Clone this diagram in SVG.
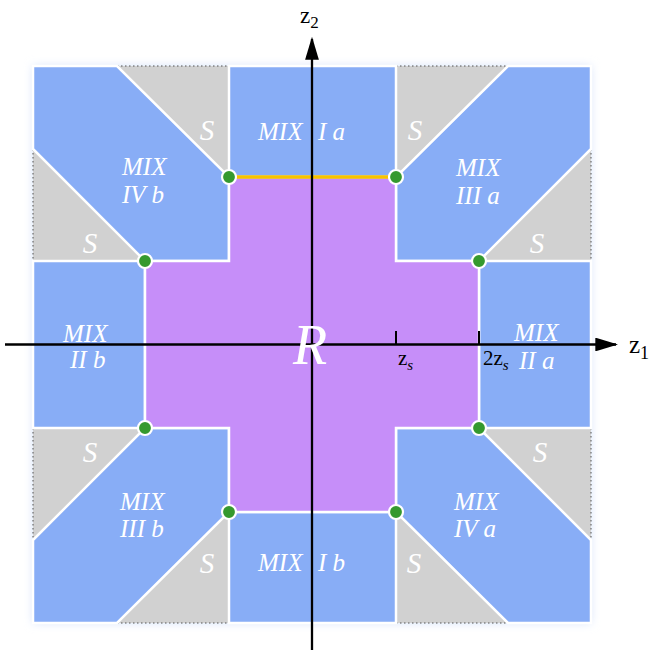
<svg xmlns="http://www.w3.org/2000/svg" width="650" height="654" viewBox="0 0 650 654">
<defs>
<filter id="glow" x="-10%" y="-10%" width="120%" height="120%"><feGaussianBlur stdDeviation="5"/></filter>
<marker id="arr" markerWidth="10" markerHeight="6" refX="9" refY="3" orient="auto" markerUnits="strokeWidth"><path d="M0,0 L10,3 L0,6 Z" fill="#000"/></marker>
</defs>
<style>
.blue{fill:#88adf6;stroke:#fff;stroke-width:2.5;stroke-linejoin:miter}
.purple{fill:#c68ef9;stroke:#fff;stroke-width:2.5}
.gray{fill:#d1d1d1;stroke:none}
.dot{stroke:#555;stroke-width:1;stroke-dasharray:1.5 2.5;fill:none}
.lbl{font-family:"Liberation Serif","DejaVu Serif",serif;font-style:italic;fill:#fff;font-size:25px}
.s{font-family:"Liberation Serif","DejaVu Serif",serif;font-style:italic;fill:#fff;font-size:29px;text-anchor:middle}
.ax{font-family:"Liberation Serif","DejaVu Serif",serif;fill:#000}
.pt{fill:#35992f;stroke:#fff;stroke-width:2.2}
</style>
<rect x="33" y="66" width="558" height="557" fill="#d6e3fb" filter="url(#glow)"/>
<rect x="33" y="66" width="558" height="557" fill="#fff"/>
<g id="gray">
<polygon class="gray" points="117,66 229,66 229,177"/>
<polygon class="gray" points="33,149 33,261 145,261"/>
<polygon class="gray" points="396,66 508,66 396,177"/>
<polygon class="gray" points="479,261 591,261 591,149"/>
<polygon class="gray" points="33,428 145,428 33,540"/>
<polygon class="gray" points="229,512 229,623 117,623"/>
<polygon class="gray" points="479,428 591,428 591,540"/>
<polygon class="gray" points="396,512 396,623 508,623"/>
<line class="dot" x1="117" y1="66" x2="229" y2="66"/>
<line class="dot" x1="33" y1="149" x2="33" y2="261"/>
<line class="dot" x1="396" y1="66" x2="508" y2="66"/>
<line class="dot" x1="591" y1="149" x2="591" y2="261"/>
<line class="dot" x1="33" y1="428" x2="33" y2="540"/>
<line class="dot" x1="117" y1="623" x2="229" y2="623"/>
<line class="dot" x1="591" y1="428" x2="591" y2="540"/>
<line class="dot" x1="396" y1="623" x2="508" y2="623"/>
</g>
<g id="mix-I-a"><rect class="blue" x="229" y="66" width="167" height="111"/></g>
<g id="mix-I-b"><rect class="blue" x="229" y="512" width="167" height="111"/></g>
<g id="mix-II-b"><rect class="blue" x="33" y="261" width="112" height="167"/></g>
<g id="mix-II-a"><rect class="blue" x="479" y="261" width="112" height="167"/></g>
<g id="mix-IV-b"><polygon class="blue" points="33,66 117,66 229,177 229,261 145,261 33,149"/></g>
<g id="mix-III-a"><polygon class="blue" points="508,66 591,66 591,149 479,261 396,261 396,177"/></g>
<g id="mix-III-b"><polygon class="blue" points="33,540 145,428 229,428 229,512 117,623 33,623"/></g>
<g id="mix-IV-a"><polygon class="blue" points="396,428 479,428 591,540 591,623 508,623 396,512"/></g>
<g id="R"><polygon class="purple" points="229,177 396,177 396,261 479,261 479,428 396,428 396,512 229,512 229,428 145,428 145,261 229,261"/></g>
<line x1="229" y1="177" x2="396" y2="177" stroke="#f7c300" stroke-width="3.5"/>
<g id="connectors">
<line x1="5" y1="344.5" x2="616" y2="344.5" stroke="#000" stroke-width="2.3" marker-end="url(#arr)"/>
<line x1="312" y1="650" x2="312" y2="39" stroke="#000" stroke-width="2.3" marker-end="url(#arr)"/>
<line x1="396" y1="331" x2="396" y2="345" stroke="#000" stroke-width="2"/>
<line x1="479" y1="331" x2="479" y2="345" stroke="#000" stroke-width="2"/>
</g>
<g id="points">
<circle class="pt" cx="229" cy="177" r="7"/>
<circle class="pt" cx="396" cy="177" r="7"/>
<circle class="pt" cx="145" cy="261" r="7"/>
<circle class="pt" cx="479" cy="261" r="7"/>
<circle class="pt" cx="145" cy="428" r="7"/>
<circle class="pt" cx="479" cy="428" r="7"/>
<circle class="pt" cx="229" cy="512" r="7"/>
<circle class="pt" cx="396" cy="512" r="7"/>
</g>
<g id="labels">
<text class="lbl" x="258" y="140">MIX<tspan x="318">I a</tspan></text>
<text class="lbl" x="258" y="571">MIX<tspan x="318">I b</tspan></text>
<text class="lbl" x="122" y="175">MIX<tspan x="122" y="203">IV b</tspan></text>
<text class="lbl" x="456" y="176">MIX<tspan x="456" y="204">III a</tspan></text>
<text class="lbl" x="63" y="342">MIX<tspan x="70" y="368">II b</tspan></text>
<text class="lbl" x="514" y="341">MIX<tspan x="519" y="369">II a</tspan></text>
<text class="lbl" x="120" y="510">MIX<tspan x="120" y="537">III b</tspan></text>
<text class="lbl" x="454" y="510">MIX<tspan x="454" y="537">IV a</tspan></text>
<text class="s" x="207" y="140">S</text>
<text class="s" x="90" y="253">S</text>
<text class="s" x="415" y="140">S</text>
<text class="s" x="537" y="253">S</text>
<text class="s" x="90" y="462">S</text>
<text class="s" x="207" y="573">S</text>
<text class="s" x="540" y="462">S</text>
<text class="s" x="414" y="573">S</text>
<text x="310" y="364" font-family="Liberation Serif, DejaVu Serif, serif" font-style="italic" font-size="56" fill="#fff" text-anchor="middle">R</text>
<text class="ax" x="300" y="23" font-size="23">z<tspan font-size="17" dy="5">2</tspan></text>
<text class="ax" x="629" y="353" font-size="25">z<tspan font-size="18" dy="6">1</tspan></text>
<text class="ax" x="398" y="365" font-size="21">z<tspan font-size="15" dy="5" font-style="italic">s</tspan></text>
<text class="ax" x="483" y="365" font-size="21">2z<tspan font-size="15" dy="5" font-style="italic">s</tspan></text>
</g>
</svg>
